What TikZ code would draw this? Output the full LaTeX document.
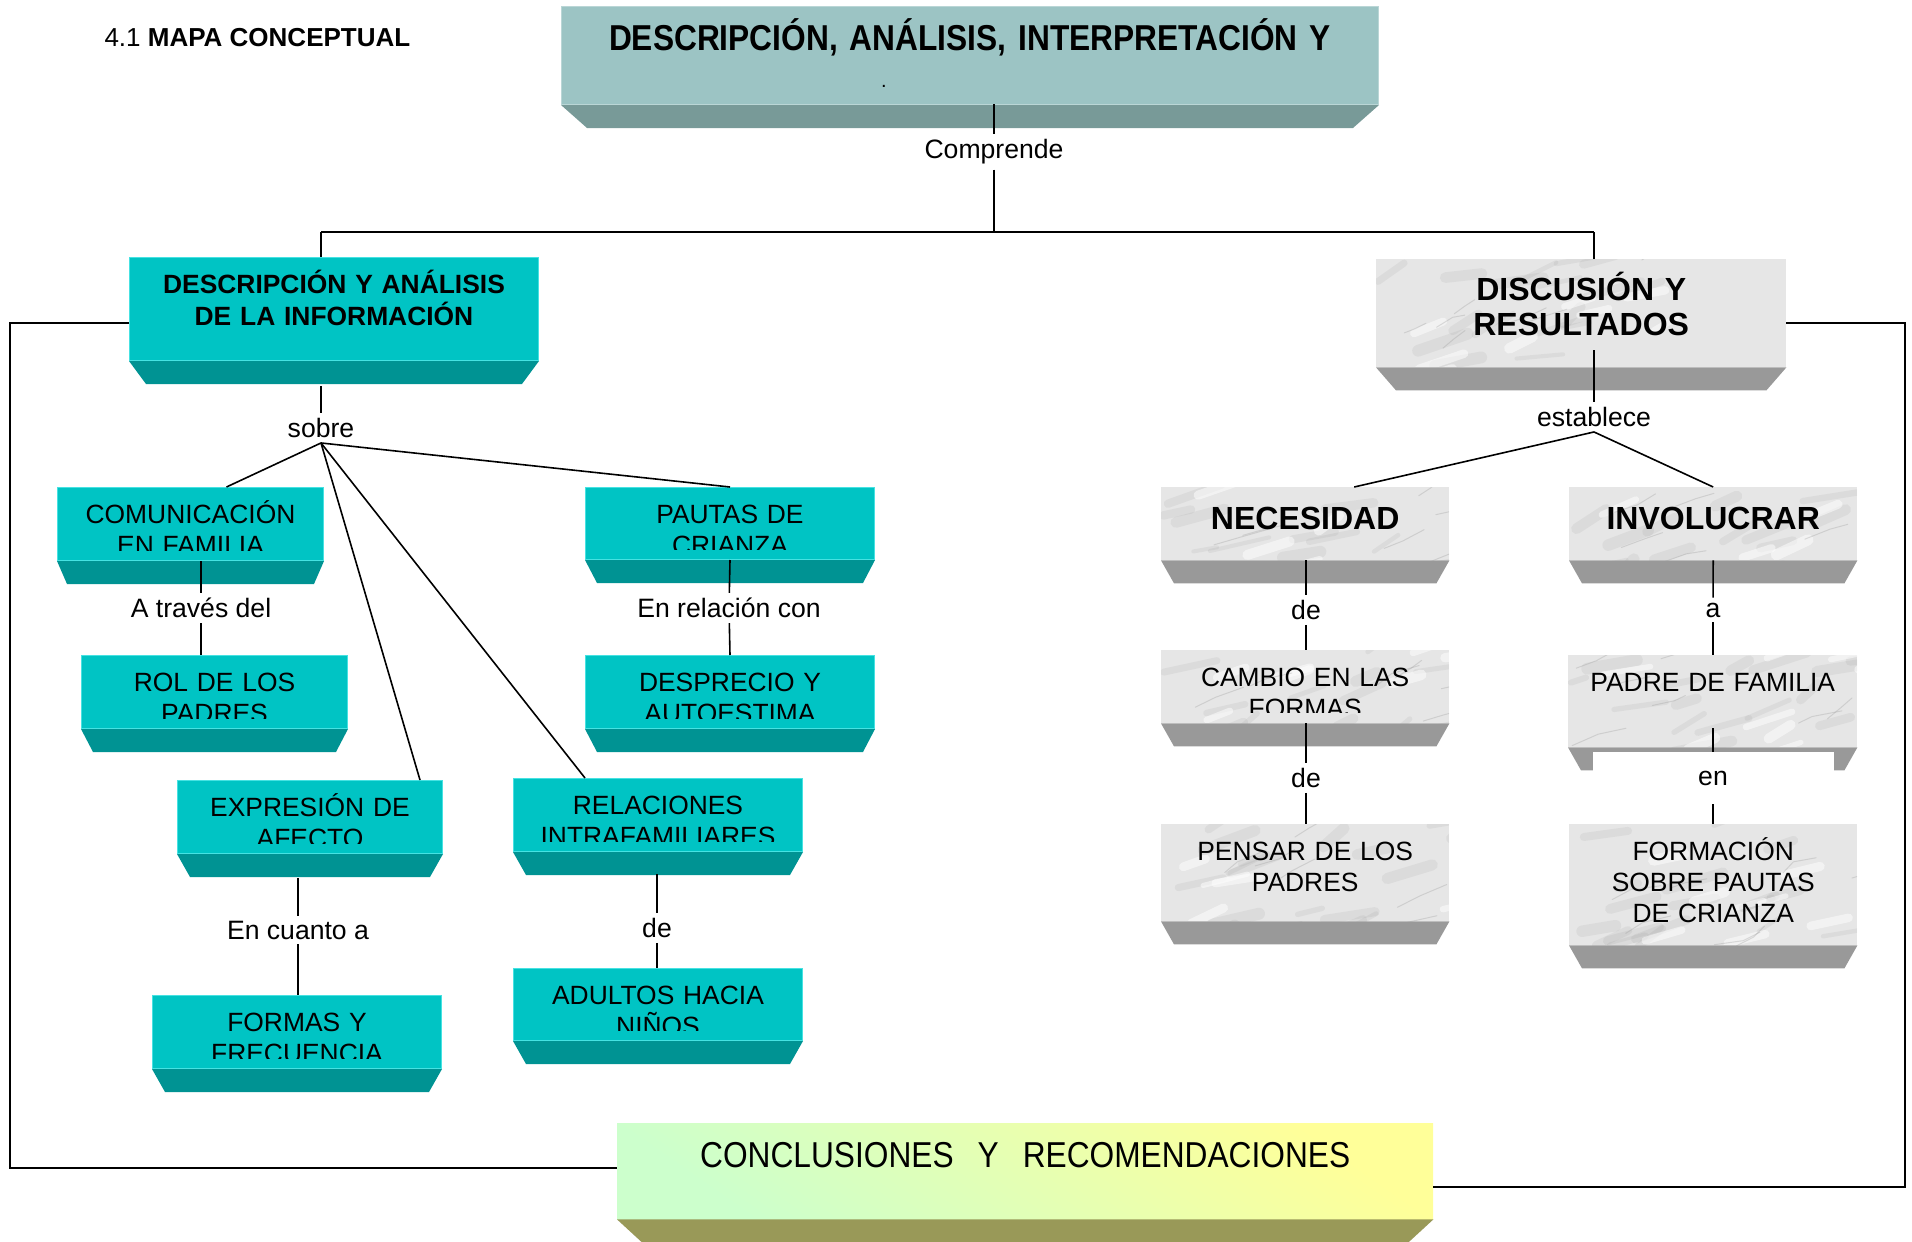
\documentclass[tikz,border=0pt]{standalone}
\usepackage{fontspec}
\setmainfont{Liberation Sans}
\newfontfamily\narrowfont[FakeStretch=0.88]{Liberation Sans}
\usetikzlibrary{calc}

\definecolor{tealface}{RGB}{0,196,196}
\definecolor{tealedge}{RGB}{70,226,226}
\definecolor{tealbevel}{RGB}{0,147,147}
\definecolor{topface}{RGB}{156,196,196}
\definecolor{topbevel}{RGB}{120,154,152}
\definecolor{marble}{RGB}{230,230,230}
\definecolor{marblebevel}{RGB}{153,153,153}
\definecolor{concgreen}{RGB}{204,255,204}
\definecolor{concyellow}{RGB}{255,255,153}
\definecolor{concbevel}{RGB}{153,153,88}

\pgfmathsetseed{11}

\tikzset{
  link/.style={line width=1.6pt},
  linktext/.style={fill=white, inner sep=5pt, font=\fontsize{26.6}{30}\selectfont},
  teal face/.style={fill=tealface, draw=tealedge, line width=1pt, inner sep=0pt},
  teal bevel/.style={fill=tealbevel},
  top face/.style={fill=topface, draw=topface!70!white, line width=1pt, inner sep=0pt},
  top bevel/.style={fill=topbevel},
  blotch/.style={line cap=round, draw=gray, opacity=.1},
  vein/.style={line width=1pt, line cap=round, draw=gray!80, opacity=.3},
  marble face/.style={fill=marble, inner sep=0pt, path picture={
      \foreach \k in {1,...,18}
        \draw[blotch, line width=4pt+rnd*8pt] ($(path picture bounding box.north west)+(rnd*300,rnd*125)$)
          -- ++(15+rnd*45,-4-rnd*16);
      \foreach \k in {1,...,8}
        \draw[blotch, draw=white, opacity=.5, line width=5pt+rnd*6pt] ($(path picture bounding box.north west)+(rnd*300,rnd*125)$)
          -- ++(20+rnd*30,-6-rnd*10);
      \foreach \k in {1,...,7}
        \draw[vein] ($(path picture bounding box.north west)+(rnd*300,rnd*125)$)
          -- ++(10+rnd*20,-4-rnd*8) -- ++(10+rnd*20,-2-rnd*10);
    }},
  marble bevel/.style={fill=marblebevel},
  conc face/.style={inner sep=0pt, top color=concyellow, bottom color=concgreen, shading angle=-35},
  conc bevel/.style={fill=concbevel},
  boxtext/.style={anchor=base, yshift=-36pt, inner sep=0pt, text width=280pt, align=center,
    font=\fontsize{26.4}{31}\selectfont},
  boldtext/.style={boxtext, text width=400pt, font=\fontsize{26.4}{32}\selectfont\bfseries},
  headtext/.style={boxtext, yshift=-6.5pt, text width=400pt, font=\fontsize{32}{35}\selectfont\bfseries},
  widetext/.style={boxtext, yshift=-8pt, text width=800pt, font=\fontsize{36}{40}\selectfont\narrowfont}
}

% face, bevel and clipped text of one slab
\newcommand{\slab}[8]{%
  \node[#1 face, minimum width=#4pt, minimum height=#5pt, anchor=north west] (#2) at (#3) {};
  \fill[#1 bevel] (#2.south west) -- (#2.south east)
    -- ([shift={(-#6pt,-23pt)}]#2.south east) -- ([shift={(#6pt,-23pt)}]#2.south west) -- cycle;
  \begin{scope}
    \clip (#2.north west) rectangle ([yshift=11pt]#2.south east);
    \node[#7] at (#2.north) {#8};
  \end{scope}}

\begin{document}
\begin{tikzpicture}[x=1pt, y=-1pt]
  \useasboundingbox (0,0) rectangle (1912,1242);

  \node[anchor=west, font=\fontsize{26}{30}\selectfont] (maptitle) at (101,38) {4.1 \textbf{MAPA CONCEPTUAL}};

  \slab{top}{topbox}{561,6}{817}{98}{26}{widetext, font=\fontsize{36}{40}\selectfont\narrowfont\bfseries}{DESCRIPCIÓN, ANÁLISIS, INTERPRETACIÓN Y}
  \node[font=\fontsize{20}{20}\selectfont] (topdot) at (884,86) {.};

  \slab{teal}{desc}{129,257}{409}{103}{17}{boldtext}{DESCRIPCIÓN Y ANÁLISIS\\DE LA INFORMACIÓN}
  \slab{marble}{disc}{1376,259}{410}{108}{20}{headtext, yshift=1pt}{DISCUSIÓN Y\\RESULTADOS}

  \slab{teal}{comun}{57,487}{266}{73}{10}{boxtext}{COMUNICACIÓN\\EN FAMILIA}
  \slab{teal}{rol}{81,655}{266}{73}{12}{boxtext}{ROL DE LOS\\PADRES}
  \slab{teal}{pautas}{585,487}{289}{72}{12}{boxtext}{PAUTAS DE\\CRIANZA}
  \slab{teal}{despr}{585,655}{289}{73}{12}{boxtext}{DESPRECIO Y\\AUTOESTIMA}
  \slab{teal}{expr}{177,780}{265}{73}{13}{boxtext}{EXPRESIÓN DE\\AFECTO}
  \slab{teal}{formas}{152,995}{289}{73}{13}{boxtext}{FORMAS Y\\FRECUENCIA}
  \slab{teal}{relac}{513,778}{289}{73}{13}{boxtext}{RELACIONES\\INTRAFAMILIARES}
  \slab{teal}{adult}{513,968}{289}{72}{13}{boxtext}{ADULTOS HACIA\\NIÑOS}

  \slab{marble}{neces}{1161,487}{288}{73}{13}{headtext}{NECESIDAD}
  \slab{marble}{cambio}{1161,650}{288}{73}{13}{boxtext}{CAMBIO EN LAS\\FORMAS}
  \slab{marble}{pensar}{1161,824}{288}{97}{13}{boxtext}{PENSAR DE LOS\\PADRES}
  \slab{marble}{invol}{1569,487}{288}{73}{13}{headtext}{INVOLUCRAR}
  \slab{marble}{padre}{1568,655}{289}{92}{13}{boxtext}{PADRE DE FAMILIA}
  \slab{marble}{formac}{1569,824}{288}{121}{13}{boxtext}{FORMACIÓN\\SOBRE PAUTAS\\DE CRIANZA}

  \slab{conc}{conc}{617,1123}{816}{96}{25}{widetext}{CONCLUSIONES\ \ Y\ \ RECOMENDACIONES}

  % labels on the links
  \node[linktext] (comprende) at (994,152) {Comprende};
  \node[linktext] (sobre) at (321,428) {sobre};
  \node[linktext] (atraves) at (201,608) {A través del};
  \node[linktext] (enrelacion) at (729,608) {En relación con};
  \node[linktext] (encuanto) at (298,930) {En cuanto a};
  \node[linktext] (deadult) at (657,928) {de};
  \node[linktext] (establece) at (1594,417) {establece};
  \node[linktext] (decambio) at (1306,610) {de};
  \node[linktext] (depensar) at (1306,778) {de};
  \node[linktext] (apadre) at (1713,610) {a};
  \node[linktext, minimum width=241pt, minimum height=52pt] (enformac) at (1713,778) {en};

  \coordinate (topfoot) at (994,104);
  \coordinate (hub) at (994,232);
  \coordinate (hubl) at (321,232);
  \coordinate (hubr) at (1594,232);
  \coordinate (descfoot) at (321,386);
  \coordinate (discfoot) at (1594,350);
  \coordinate (exprfoot) at (298,878);
  \coordinate (relacfoot) at (657,874);
  \coordinate (padrefoot) at (1713,728);
  \coordinate (frameL1) at (10,323);
  \coordinate (frameL2) at (10,1168);
  \coordinate (frameR1) at (1905,323);
  \coordinate (frameR2) at (1905,1187);

  \draw[link] (topfoot) -- (comprende);
  \draw[link] (comprende) -- (hub);
  \draw[link] (hubl) -- (hubr);
  \draw[link] (hubl) -- (hubl |- desc.north);
  \draw[link] (hubr) -- (hubr |- disc.north);

  \draw[link] (desc.west |- frameL1) -- (frameL1) -- (frameL2) -- (conc.west |- frameL2);
  \draw[link] (disc.east |- frameR1) -- (frameR1) -- (frameR2) -- (conc.east |- frameR2);

  \draw[link] (descfoot) -- (sobre);
  \draw[link] (sobre.south) -- ([xshift=36pt]comun.north);
  \draw[link] (sobre.south) -- (pautas.north);
  \draw[link] (sobre.south) -- ([xshift=-23pt]expr.north east);
  \draw[link] (sobre.south) -- ([xshift=72pt]relac.north west);

  \draw[link] (atraves |- comun.south) -- (atraves);
  \draw[link] (atraves) -- (atraves |- rol.north);
  \draw[link] (pautas.south) -- (enrelacion);
  \draw[link] (enrelacion) -- (despr.north);
  \draw[link] (exprfoot) -- (encuanto);
  \draw[link] (encuanto) -- (encuanto |- formas.north);
  \draw[link] (relacfoot) -- (deadult);
  \draw[link] (deadult) -- (deadult |- adult.north);

  \draw[link] (discfoot) -- (establece);
  \draw[link] (establece.south) -- ([xshift=49pt]neces.north);
  \draw[link] (establece.south) -- (invol.north);
  \draw[link] (decambio |- neces.south) -- (decambio);
  \draw[link] (decambio) -- (decambio |- cambio.north);
  \draw[link] (depensar |- cambio.south) -- (depensar);
  \draw[link] (depensar) -- (depensar |- pensar.north);
  \draw[link] (invol.south) -- (apadre);
  \draw[link] (apadre) -- (apadre |- padre.north);
  \draw[link] (padrefoot) -- (enformac);
  \draw[link] (enformac) -- (enformac |- formac.north);
\end{tikzpicture}
\end{document}
